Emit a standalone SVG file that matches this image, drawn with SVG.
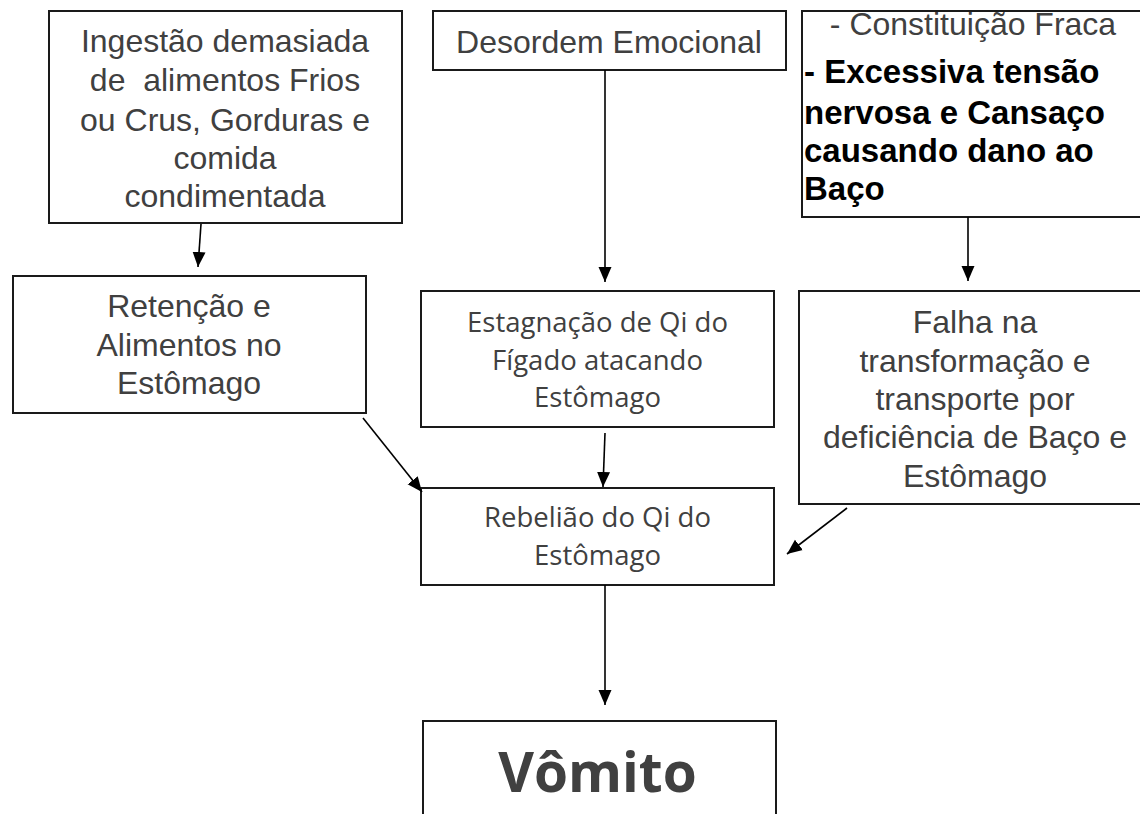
<svg xmlns="http://www.w3.org/2000/svg" width="1140" height="814" viewBox="0 0 1140 814">
<defs>
<marker id="arr" markerUnits="userSpaceOnUse" markerWidth="16" markerHeight="16" viewBox="0 0 16 16" refX="15" refY="8" orient="auto">
<path d="M0,1.5 L15,8 L0,14.5 Z" fill="#000"/>
</marker>
<style>
.box{fill:#fff;stroke:#1a1a1a;stroke-width:2}
.t{font-family:"Liberation Sans",Arial,sans-serif;font-size:32px;fill:#404040;text-anchor:middle}
.b{font-family:"Liberation Sans",Arial,sans-serif;font-size:33px;font-weight:bold;fill:#000}
.c{font-family:"Open Sans","Noto Sans",sans-serif;font-size:27.5px;fill:#404040;text-anchor:middle}
.v{font-family:"Open Sans","Noto Sans",sans-serif;font-size:55px;font-weight:bold;fill:#404040;text-anchor:middle}
.con{stroke:#000;stroke-width:1.6;fill:none;marker-end:url(#arr)}
</style>
</defs>
<rect width="1140" height="814" fill="#fff"/>
<g id="ingestao">
<rect class="box" x="49" y="11" width="353" height="212"/>
<text class="t" x="225" y="52">Ingestão demasiada</text>
<text class="t" x="225" y="91" style="white-space:pre">de  alimentos Frios</text>
<text class="t" x="225" y="131">ou Crus, Gorduras e</text>
<text class="t" x="225" y="169">comida</text>
<text class="t" x="225" y="207">condimentada</text>
</g>
<g id="desordem">
<rect class="box" x="433" y="11" width="353" height="59"/>
<text class="t" x="609" y="53">Desordem Emocional</text>
</g>
<g id="constituicao">
<rect class="box" x="802" y="11" width="350" height="206"/>
<text class="t" x="973" y="35">- Constituição Fraca</text>
<text class="b" x="804" y="83">- Excessiva tensão</text>
<text class="b" x="804" y="124">nervosa e Cansaço</text>
<text class="b" x="804" y="162">causando dano ao</text>
<text class="b" x="804" y="200">Baço</text>
</g>
<g id="retencao">
<rect class="box" x="13" y="276" width="353" height="137"/>
<text class="t" x="189" y="317">Retenção e</text>
<text class="t" x="189" y="356">Alimentos no</text>
<text class="t" x="189" y="394">Estômago</text>
</g>
<g id="estagnacao">
<rect class="box" x="421" y="291" width="353" height="136"/>
<text class="c" x="597.5" y="332">Estagnação de Qi do</text>
<text class="c" x="597.5" y="369.5">Fígado atacando</text>
<text class="c" x="597.5" y="407">Estômago</text>
</g>
<g id="falha">
<rect class="box" x="799" y="291" width="353" height="213"/>
<text class="t" x="975" y="333">Falha na</text>
<text class="t" x="975" y="372">transformação e</text>
<text class="t" x="975" y="410">transporte por</text>
<text class="t" x="975" y="448">deficiência de Baço e</text>
<text class="t" x="975" y="487">Estômago</text>
</g>
<g id="rebeliao">
<rect class="box" x="421" y="488" width="353" height="97"/>
<text class="c" x="597.5" y="527">Rebelião do Qi do</text>
<text class="c" x="597.5" y="565">Estômago</text>
</g>
<g id="vomito">
<rect class="box" x="423" y="721" width="353" height="110"/>
<text class="v" x="597.5" y="792">Vômito</text>
</g>
<g id="connectors">
<line class="con" x1="201" y1="224" x2="198" y2="267"/>
<line class="con" x1="605" y1="70" x2="605" y2="282"/>
<line class="con" x1="968" y1="217" x2="968" y2="281"/>
<line class="con" x1="363" y1="418" x2="422" y2="492"/>
<line class="con" x1="605" y1="433" x2="603" y2="487"/>
<line class="con" x1="847" y1="508" x2="787" y2="554"/>
<line class="con" x1="605" y1="585" x2="605" y2="705"/>
</g>
</svg>
